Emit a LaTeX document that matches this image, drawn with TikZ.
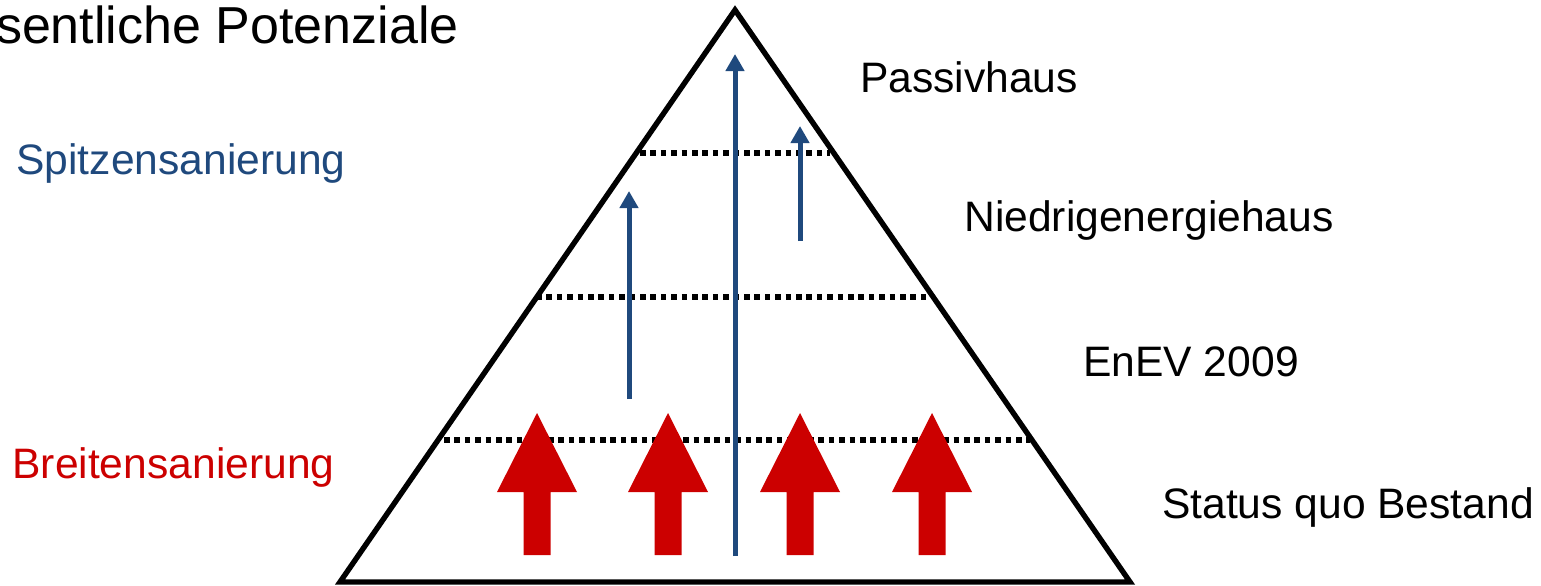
\documentclass[tikz,border=0pt]{standalone}
\usepackage{fontspec}
\setmainfont{Liberation Sans}
\usetikzlibrary{arrows.meta}
\definecolor{pblue}{RGB}{31,73,125}
\definecolor{pred}{RGB}{204,0,0}
\tikzset{
  lbl/.style={inner sep=0pt, font=\fontsize{21.3}{25}\selectfont},
  level/.style={line width=2.6pt, dash pattern=on 2.8pt off 2.4pt},
  barrow/.style={pblue, line width=2.5pt, -{Triangle[width=9pt,length=8.5pt]}},
  redarrow/.style={fill=pred, draw=none}
}
\newcommand{\redup}[1]{%
  \fill[redarrow] (#1-40,492) -- (#1,413) -- (#1+40,492) -- (#1+13.5,492) -- (#1+13.5,555) -- (#1-13.5,555) -- (#1-13.5,492) -- cycle;}
\begin{document}
\begin{tikzpicture}[x=0.5pt,y=-0.5pt]
\useasboundingbox (0,0) rectangle (1541,585);
% triangle
\coordinate (apex) at (735,10);
\coordinate (bl) at (340,582);
\coordinate (br) at (1130,582);
\draw[line width=2.7pt, line join=miter] (bl) -- (apex) -- (br) -- cycle;
% level lines
\coordinate (l1a) at (640,153); \coordinate (l1b) at (830,153);
\coordinate (l2a) at (536,297); \coordinate (l2b) at (930,297);
\coordinate (l3a) at (444,440); \coordinate (l3b) at (1030,440);
\draw[level] (l1a) -- (l1b);
\draw[level] (l2a) -- (l2b);
\draw[level] (l3a) -- (l3b);
% red arrows
\redup{537}
\redup{668}
\redup{800}
\redup{932}
% blue arrows
\coordinate (c0) at (735,556); \coordinate (c1) at (735,54);
\coordinate (lf0) at (629,399); \coordinate (lf1) at (629,191);
\coordinate (rt0) at (800,241); \coordinate (rt1) at (800,126);
\draw[barrow] (c0) -- (c1);
\draw[barrow] (lf0) -- (lf1);
\draw[barrow] (rt0) -- (rt1);
% labels
\node[lbl, anchor=east, font=\fontsize{26}{30}\selectfont] (title) at (459,25) {sentliche Potenziale};
\node[lbl, anchor=west, text=pblue] (spitze) at (16,163) {Spitzensanierung};
\node[lbl, anchor=west, text=pred] (breite) at (12,467) {Breitensanierung};
\node[lbl] (passiv) at (969,77) {Passivhaus};
\node[lbl] (niedrig) at (1149,220) {Niedrigenergiehaus};
\node[lbl] (enev) at (1191,362) {EnEV 2009};
\node[lbl] (status) at (1348,507) {Status quo Bestand};
\end{tikzpicture}
\end{document}
